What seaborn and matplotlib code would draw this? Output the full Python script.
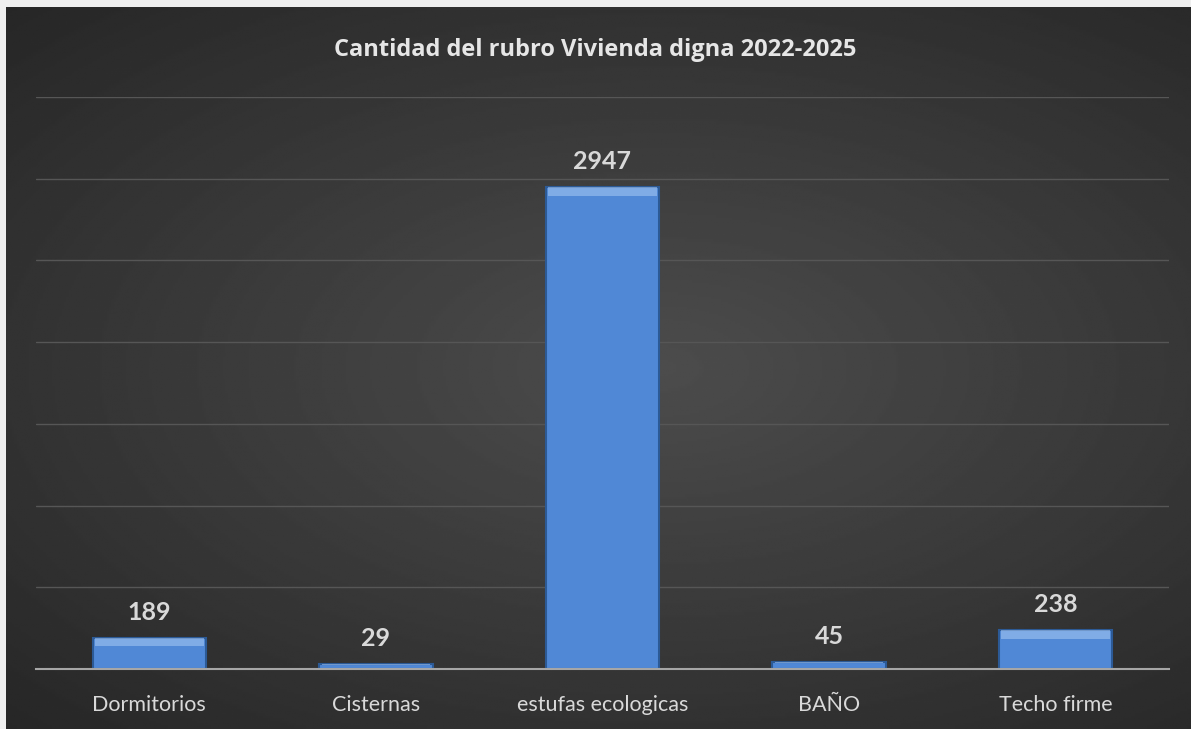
import numpy as np
import pandas as pd
import seaborn as sns
from matplotlib import pyplot as plt
from matplotlib.patches import Rectangle

# data
categorias = ["Dormitorios", "Cisternas", "estufas ecologicas", "BAÑO", "Techo firme"]
cantidades = [189, 29, 2947, 45, 238]
titulo = "Cantidad del rubro Vivienda digna 2022-2025"

df = pd.DataFrame({"Rubro": categorias, "Cantidad": cantidades})

sns.set_style("dark")
plt.rcParams["font.family"] = ["Lato", "DejaVu Sans"]

fig = plt.figure(figsize=(11.91, 7.29), dpi=100)
fig.patch.set_facecolor("#efefef")

# dark background with a soft radial glow
bg = fig.add_axes([6 / 1191, 0, 1 - 6 / 1191, 1 - 7 / 729])
yy, xx = np.mgrid[0:1:300j, 0:1:500j]
dist = np.sqrt(((xx - 0.55) / 0.9) ** 2 + ((yy - 0.5) / 0.8) ** 2)
shade = np.clip(0.30 - 0.17 * dist, 0.15, 0.30)
bg.imshow(shade, cmap="gray", vmin=0, vmax=1, aspect="auto", extent=[0, 1, 0, 1])
bg.set_axis_off()

ax = fig.add_axes([36 / 1191, 1 - 669 / 729, 1133 / 1191, (669 - 97) / 729])
ax.patch.set_alpha(0)

sns.barplot(data=df, x="Rubro", y="Cantidad", color="#5088d6", width=0.5,
            edgecolor="#2c5a96", linewidth=1.5, saturation=1, ax=ax, zorder=3)

# bevel: light band on the top of each bar
for bar in ax.patches:
    h = bar.get_height()
    x0, w = bar.get_x(), bar.get_width()
    strip = min(h * 0.25, 55)
    ax.add_patch(Rectangle((x0 + 0.01, h - strip), w - 0.02, strip,
                           facecolor="#a9cbf5", edgecolor="none", alpha=0.55, zorder=4))

for i, v in enumerate(cantidades):
    ax.annotate(str(v), (i, v), xytext=(0, 10), textcoords="offset points",
                ha="center", va="bottom", fontsize=18, fontweight="bold", color="#d9d9d9")

ax.set_ylim(0, 3500)
ax.set_xlim(-0.5, 4.5)
ax.set_yticks(range(500, 3501, 500))
ax.set_yticklabels([])
ax.grid(axis="y", color="#565656", linewidth=1)
ax.grid(axis="x", visible=False)
ax.set_axisbelow(True)
for s in ["top", "right", "left"]:
    ax.spines[s].set_visible(False)
ax.spines["bottom"].set_color("#a6a6a6")
ax.spines["bottom"].set_linewidth(1.5)
ax.spines["bottom"].set_zorder(5)
ax.tick_params(axis="x", length=0, pad=19, labelsize=15.5, labelcolor="#d9d9d9")
ax.tick_params(axis="y", length=0)
ax.set_xlabel("")
ax.set_ylabel("")

fig.text(0.5, 1 - 50 / 729, titulo, ha="center", va="center", fontsize=17,
         fontweight="bold", color="#e6e6e6", family=["Open Sans", "DejaVu Sans"])

plt.savefig("out.png", dpi=100, facecolor=fig.get_facecolor())
